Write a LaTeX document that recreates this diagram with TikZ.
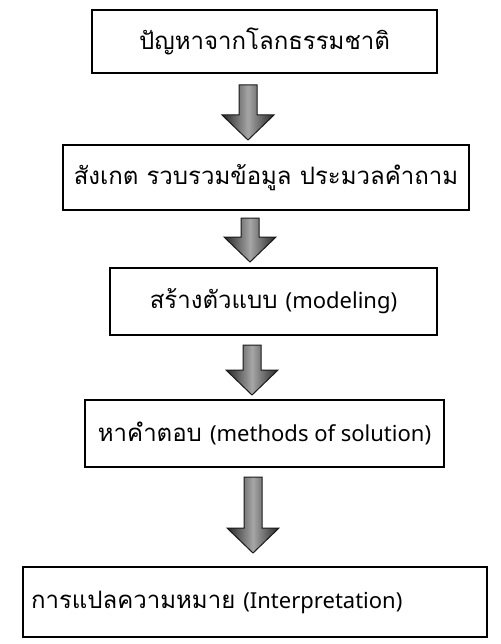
\documentclass[tikz,border=0pt]{standalone}
\usepackage{fontspec}
\newfontfamily\thaifont[Script=Thai]{Loma}
\newfontfamily\latinfont{Noto Sans}
\usetikzlibrary{calc}
\tikzset{
  stepbox/.style={draw=black, line width=1.1pt, inner sep=0pt, font=\thaifont\fontsize{24}{27}\selectfont},
  blockarr/.style={draw=black!90, line width=1pt, line join=miter,
    left color=black!85, right color=black!85, middle color=black!35},
}
\newcommand\lat[1]{{\latinfont\fontsize{22}{27}\selectfont #1}}
\newcommand\blockarrow[2]{%
  \path[blockarr] ($(#1)+(-9,0)$) -- ($(#2)+(-9,25)$) -- ($(#2)+(-26,25)$) -- (#2)
    -- ($(#2)+(26,25)$) -- ($(#2)+(9,25)$) -- ($(#1)+(9,0)$) -- cycle;}
\begin{document}
\begin{tikzpicture}[x=1pt,y=1pt]
\useasboundingbox (0,0) rectangle (500,-644);
\node[stepbox, minimum width=345pt, minimum height=63pt] (b1) at (264.5,-41.5) {ปัญหาจากโลกธรรมชาติ};
\node[stepbox, minimum width=406pt, minimum height=65pt] (b2) at (266,-177.5) {สังเกต รวบรวมข้อมูล ประมวลคำถาม};
\node[stepbox, minimum width=327pt, minimum height=67pt] (b3) at (273.5,-301.5) {สร้างตัวแบบ \lat{(modeling)}};
\node[stepbox, minimum width=359pt, minimum height=67pt] (b4) at (264.5,-433.5) {หาคำตอบ \lat{(methods of solution)}};
\node[stepbox, minimum width=464pt, minimum height=70pt, text width=448pt, align=left] (b5) at (255,-602) {การแปลความหมาย \lat{(Interpretation)}};
\coordinate (a1s) at (248,-85);  \coordinate (a1e) at (248,-140);
\coordinate (a2s) at (250,-218); \coordinate (a2e) at (250,-262);
\coordinate (a3s) at (252,-345); \coordinate (a3e) at (252,-395);
\coordinate (a4s) at (253,-477); \coordinate (a4e) at (253,-553);
\blockarrow{a1s}{a1e}
\blockarrow{a2s}{a2e}
\blockarrow{a3s}{a3e}
\blockarrow{a4s}{a4e}
\end{tikzpicture}
\end{document}
